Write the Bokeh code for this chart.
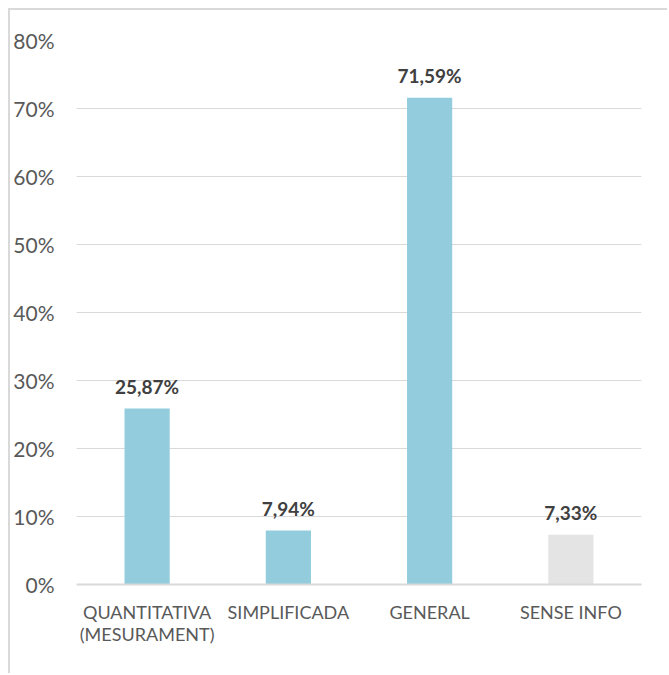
from bokeh.plotting import figure
from bokeh.models import ColumnDataSource, FactorRange, Range1d, FixedTicker, PrintfTickFormatter, LabelSet
from bokeh.core.properties import value
from bokeh.embed import file_html
from bokeh.resources import INLINE

categories = ["QUANTITATIVA\n(MESURAMENT)", "SIMPLIFICADA", "GENERAL", "SENSE INFO"]
values = [25.87, 7.94, 71.59, 7.33]
bar_colors = ["#93CDDD", "#93CDDD", "#93CDDD", "#E4E4E4"]
y_ticks = [0, 10, 20, 30, 40, 50, 60, 70, 80]

labels = [f"{v:.2f}".replace(".", ",") + "%" for v in values]
source = ColumnDataSource(data=dict(cat=categories, val=values, color=bar_colors, label=labels))

FONT = "Lato"

p = figure(
    x_range=FactorRange(factors=categories, range_padding=0),
    y_range=Range1d(0, 80),
    width=659, height=665,
    output_backend="svg", toolbar_location=None,
    min_border_left=60, min_border_right=28, min_border_top=30, min_border_bottom=91,
    styles={"margin-left": "8px", "margin-top": "8px",
            "border-top": "2px solid #d9d9d9", "border-left": "2px solid #d9d9d9"},
)
p.outline_line_color = None
p.background_fill_color = "white"
p.border_fill_color = "white"

p.vbar(x="cat", top="val", width=0.32, fill_color="color", line_color=None, source=source)

lbl = LabelSet(x="cat", y="val", text="label", source=source, text_align="center",
               text_baseline="alphabetic", y_offset=15, text_font=value(FONT),
               text_font_size=value("19px"), text_font_style="bold", text_color=value("#404040"))
p.add_layout(lbl)

p.xgrid.grid_line_color = None
p.ygrid.grid_line_color = "#d9d9d9"
p.ygrid.grid_line_width = 1
p.ygrid.ticker = FixedTicker(ticks=y_ticks)

p.yaxis.ticker = FixedTicker(ticks=y_ticks)
p.yaxis.formatter = PrintfTickFormatter(format="%d%%")
p.yaxis.axis_line_color = None
p.yaxis.major_tick_line_color = None
p.yaxis.minor_tick_line_color = None
p.yaxis.major_label_text_font = FONT
p.yaxis.major_label_text_font_size = "21px"
p.yaxis.major_label_text_color = "#595959"
p.yaxis.major_label_standoff = 16

p.xaxis.axis_line_color = "#d9d9d9"
p.xaxis.axis_line_width = 2
p.xaxis.major_tick_line_color = None
p.xaxis.minor_tick_line_color = None
p.xaxis.major_label_text_font = FONT
p.xaxis.major_label_text_font_size = "18px"
p.xaxis.major_label_text_color = "#595959"
p.xaxis.major_label_text_line_height = 1.0
p.xaxis.major_label_standoff = 10

open("out.html", "w").write(file_html(p, INLINE))
